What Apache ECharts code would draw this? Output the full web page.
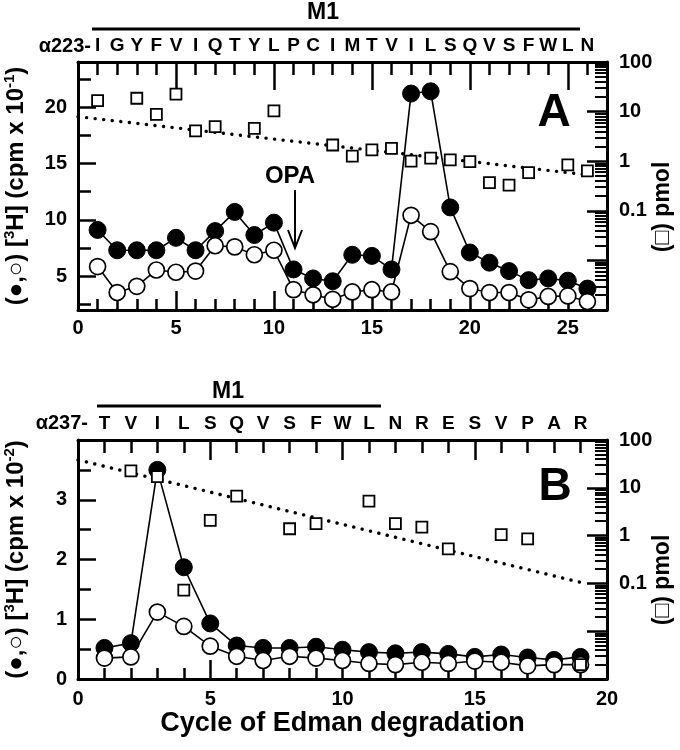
<!DOCTYPE html>
<html>
<head>
<meta charset="utf-8">
<script src="https://cdn.jsdelivr.net/npm/echarts@6/dist/echarts.min.js"></script>
<style>html,body{margin:0;padding:0;background:#fff}#c{width:680px;height:750px}</style>
</head>
<body>
<div id="c"></div>
<script>
// ---------------- DATA ----------------
// Panel A
const cyclesA = [1,2,3,4,5,6,7,8,9,10,11,12,13,14,15,16,17,18,19,20,21,22,23,24,25,26];
const residuesA = ['I','G','Y','F','V','I','Q','T','Y','L','P','C','I','M','T','V','I','L','S','Q','V','S','F','W','L','N'];
const filledA = [9.1,7.3,7.3,7.3,8.4,7.3,9.0,10.7,8.65,9.75,5.6,4.8,4.55,6.9,6.8,5.6,21.2,21.4,11.1,7.1,6.2,5.45,4.65,4.8,4.6,3.9];
const openA   = [5.85,3.55,4.1,5.55,5.35,5.45,7.7,7.6,6.9,7.3,3.8,3.35,2.95,3.6,3.8,3.6,10.4,8.95,5.4,3.9,3.55,3.55,2.9,3.2,3.25,2.75];
const pmolA   = [16.6,null,18.6,8.8,22.6,4.07,4.97,null,4.6,10.3,null,null,2.12,1.27,1.69,1.82,1.0,1.15,1.06,0.98,0.37,0.33,0.59,null,0.84,0.64];
const fitCyclesA = [0, 26];
const fitPmolA   = [7.9, 0.53];
const xTickLabelsA = [0,5,10,15,20,25];
const yTickLabelsA = [5,10,15,20];

// Panel B
const cyclesB = [1,2,3,4,5,6,7,8,9,10,11,12,13,14,15,16,17,18,19];
const residuesB = ['T','V','I','L','S','Q','V','S','F','W','L','N','R','E','S','V','P','A','R'];
const filledB = [0.52,0.60,3.50,1.87,0.93,0.56,0.52,0.52,0.54,0.49,0.45,0.43,0.45,0.42,0.37,0.41,0.36,0.32,0.37];
const openB   = [0.35,0.37,1.12,0.88,0.55,0.38,0.31,0.38,0.35,0.31,0.26,0.24,0.28,0.26,0.30,0.28,0.22,0.24,0.24];
const pmolB   = [null,22.5,17.1,0.072,2.09,6.7,null,1.39,1.78,null,5.25,1.78,1.51,0.53,null,1.05,0.85,null,0.002];
const fitCyclesB = [0, 19];
const fitPmolB   = [38.4, 0.105];
const xTickLabelsB = [0,5,10,15,20];
const yTickLabelsB = [0,1,2,3];

const pmolTickLabels = [0.1, 1, 10, 100];

// ---------------- LAYOUT / STYLE ----------------
const FONT = '"Liberation Sans", Arial, sans-serif';
const BLACK = '#000';
const chart = echarts.init(document.getElementById('c'), null, {renderer: 'canvas'});

const pairs = (xs, ys) => xs.map((x, i) => ys[i] == null ? null : [x, ys[i]]).filter(p => p);
const seq = (a, b, step) => { const r = []; for (let v = a; v <= b + 1e-9; v += step) r.push(+v.toFixed(4)); return r; };
const log10 = v => Math.log(v) / Math.LN10;

const lblStyle = {color: BLACK, fontFamily: FONT, fontWeight: 'bold', fontSize: 20};

function xAxesFor(gi, max, residues, majors, labels, labelMargin, topMajorLen, name) {
  const ints = seq(1, max - 1, 1);
  const base = {type: 'value', gridIndex: gi, min: 0, max: max, splitLine: {show: false}};
  const line = {show: true, onZero: false, lineStyle: {color: BLACK, width: 3}};
  const noLine = {show: false, onZero: false};
  return [
    Object.assign({}, base, {
      position: 'bottom', axisLine: line,
      axisTick: {show: true, inside: true, length: 19, customValues: majors, lineStyle: {color: BLACK, width: 2.5}},
      axisLabel: Object.assign({customValues: labels, margin: labelMargin}, lblStyle),
      name: name || '', nameLocation: 'middle', nameGap: 28,
      nameTextStyle: {color: BLACK, fontFamily: FONT, fontWeight: 'bold', fontSize: 27}
    }),
    Object.assign({}, base, {
      position: 'bottom', axisLine: noLine,
      axisTick: {show: true, inside: true, length: 11, customValues: ints, lineStyle: {color: BLACK, width: 2.5}},
      axisLabel: {show: false}
    }),
    Object.assign({}, base, {
      position: 'top', axisLine: line,
      axisTick: {show: true, inside: true, length: topMajorLen, customValues: majors, lineStyle: {color: BLACK, width: 2.5}},
      axisLabel: {show: false}
    }),
    Object.assign({}, base, {
      position: 'top', axisLine: noLine,
      axisTick: {show: true, inside: true, length: 13, customValues: ints, lineStyle: {color: BLACK, width: 2.5}},
      axisLabel: Object.assign({customValues: ints, margin: 7, formatter: v => residues[Math.round(v) - 1] || ''}, lblStyle, {fontSize: 19})
    })
  ];
}

const logMajors = seq(-3, 2, 1);
const logMinors = [];
for (let d = -3; d <= 1; d++) for (let k = 2; k <= 9; k++) logMinors.push(log10(k * Math.pow(10, d)));

function yAxesFor(gi, ymin, ymax, labels, majors, minors, name) {
  const base = {type: 'value', gridIndex: gi, splitLine: {show: false}};
  const line = {show: true, onZero: false, lineStyle: {color: BLACK, width: 3}};
  const noLine = {show: false, onZero: false};
  return [
    Object.assign({}, base, {
      position: 'left', min: ymin, max: ymax, axisLine: line,
      axisTick: {show: true, inside: true, length: 18, customValues: majors, lineStyle: {color: BLACK, width: 2.5}},
      axisLabel: Object.assign({customValues: labels, margin: 11}, lblStyle),
      name: name, nameLocation: 'middle', nameGap: 48,
      nameTextStyle: {color: BLACK, fontFamily: FONT, fontWeight: 'bold', fontSize: 24, lineHeight: 28,
        rich: {s: {fontSize: 15, fontWeight: 'bold', fontFamily: FONT, color: BLACK, verticalAlign: 'top', lineHeight: 15}}}
    }),
    Object.assign({}, base, {
      position: 'left', min: ymin, max: ymax, axisLine: noLine,
      axisTick: {show: true, inside: true, length: 13, customValues: minors, lineStyle: {color: BLACK, width: 2.5}},
      axisLabel: {show: false}
    }),
    Object.assign({}, base, {
      position: 'right', min: -3, max: 2, axisLine: line,
      axisTick: {show: true, inside: true, length: 20, customValues: logMajors, lineStyle: {color: BLACK, width: 2.5}},
      axisLabel: Object.assign({customValues: pmolTickLabels.map(log10), margin: 12,
        formatter: v => String(+Math.pow(10, v).toPrecision(2))}, lblStyle)
    }),
    Object.assign({}, base, {
      position: 'right', min: -3, max: 2, axisLine: noLine,
      axisTick: {show: true, inside: true, length: 12, customValues: logMinors, lineStyle: {color: BLACK, width: 2}},
      axisLabel: {show: false}
    }),
    {type: 'log', logBase: 10, gridIndex: gi, position: 'right', min: 0.001, max: 100, show: false,
      axisLine: {onZero: false}, splitLine: {show: false}}
  ];
}

const xAxes = [].concat(
  xAxesFor(0, 27, residuesA, [5,10,15,20,25], xTickLabelsA, 8, 28, ''),
  xAxesFor(1, 20, residuesB, [5,10,15], xTickLabelsB, 10, 20, 'Cycle of Edman degradation')
);
const yAxes = [].concat(
  yAxesFor(0, 2, 24, yTickLabelsA, yTickLabelsA, [2.5,7.5,12.5,17.5,22.5], '(\u25CF,\u25CB) [{s|3}H] (cpm x 10{s|-1})'),
  yAxesFor(1, 0, 4, yTickLabelsB, [1,2,3], [0.5,1.5,2.5,3.5], '(\u25CF,\u25CB) [{s|3}H] (cpm x 10{s|-2})')
);

function seriesFor(gi, cycles, filled, open, pmol, fitX, fitY) {
  const xi = gi * 4, yi = gi * 5;
  return [
    {type: 'line', xAxisIndex: xi, yAxisIndex: yi + 4, data: pairs(fitX, fitY), symbol: 'none',
      lineStyle: {color: BLACK, width: 3.4, type: [0.1, 8.5], cap: 'round'}, z: 1},
    {type: 'line', xAxisIndex: xi, yAxisIndex: yi, data: pairs(cycles, filled), symbol: 'circle', symbolSize: 17,
      showAllSymbol: true, itemStyle: {color: BLACK, borderColor: BLACK, borderWidth: 1},
      lineStyle: {color: BLACK, width: 1.6}, z: 2},
    {type: 'line', xAxisIndex: xi, yAxisIndex: yi, data: pairs(cycles, open), symbol: 'circle', symbolSize: 16,
      showAllSymbol: true, itemStyle: {color: '#fff', borderColor: BLACK, borderWidth: 1.7},
      lineStyle: {color: BLACK, width: 1.6}, z: 3},
    {type: 'scatter', xAxisIndex: xi, yAxisIndex: yi + 4, data: pairs(cycles, pmol), symbol: 'rect', symbolSize: 11,
      itemStyle: {color: '#fff', borderColor: BLACK, borderWidth: 1.8, opacity: 1}, z: 4}
  ];
}

const txt = (x, y, text, size, align, rot) => ({type: 'text', x: x, y: y, z: 10, rotation: rot || 0,
  style: {text: text, fill: BLACK, font: 'bold ' + size + 'px ' + FONT, align: align || 'center', verticalAlign: 'middle'}});

const option = {
  animation: false,
  backgroundColor: '#fff',
  grid: [
    {left: 78, top: 62, width: 529, height: 248, outerBoundsMode: 'none', containLabel: false},
    {left: 78, top: 440, width: 529, height: 239, outerBoundsMode: 'none', containLabel: false}
  ],
  xAxis: xAxes,
  yAxis: yAxes,
  series: [].concat(
    seriesFor(0, cyclesA, filledA, openA, pmolA, fitCyclesA, fitPmolA),
    seriesFor(1, cyclesB, filledB, openB, pmolB, fitCyclesB, fitPmolB)
  ),
  graphic: [
    txt(323, 13, 'M1', 23),
    {type: 'line', shape: {x1: 92, y1: 29, x2: 580, y2: 29}, style: {stroke: BLACK, lineWidth: 3}},
    txt(91, 46, '\u03B1223-', 20, 'right'),
    txt(554, 113, 'A', 46),
    txt(290, 176, 'OPA', 24),
    {type: 'line', shape: {x1: 295, y1: 190, x2: 295, y2: 246}, style: {stroke: BLACK, lineWidth: 2}},
    {type: 'polyline', shape: {points: [[288, 230], [295, 248], [302, 230]]}, style: {stroke: BLACK, lineWidth: 2, fill: null}},
    txt(663, 207, '(\u25A1) pmol', 23, 'center', Math.PI / 2),
    txt(228, 392, 'M1', 23),
    {type: 'line', shape: {x1: 97, y1: 406, x2: 381, y2: 406}, style: {stroke: BLACK, lineWidth: 3}},
    txt(88, 423, '\u03B1237-', 20, 'right'),
    txt(555, 487, 'B', 46),
    txt(663, 580, '(\u25A1) pmol', 23, 'center', Math.PI / 2)
  ]
};
chart.setOption(option);
</script>
</body>
</html>
